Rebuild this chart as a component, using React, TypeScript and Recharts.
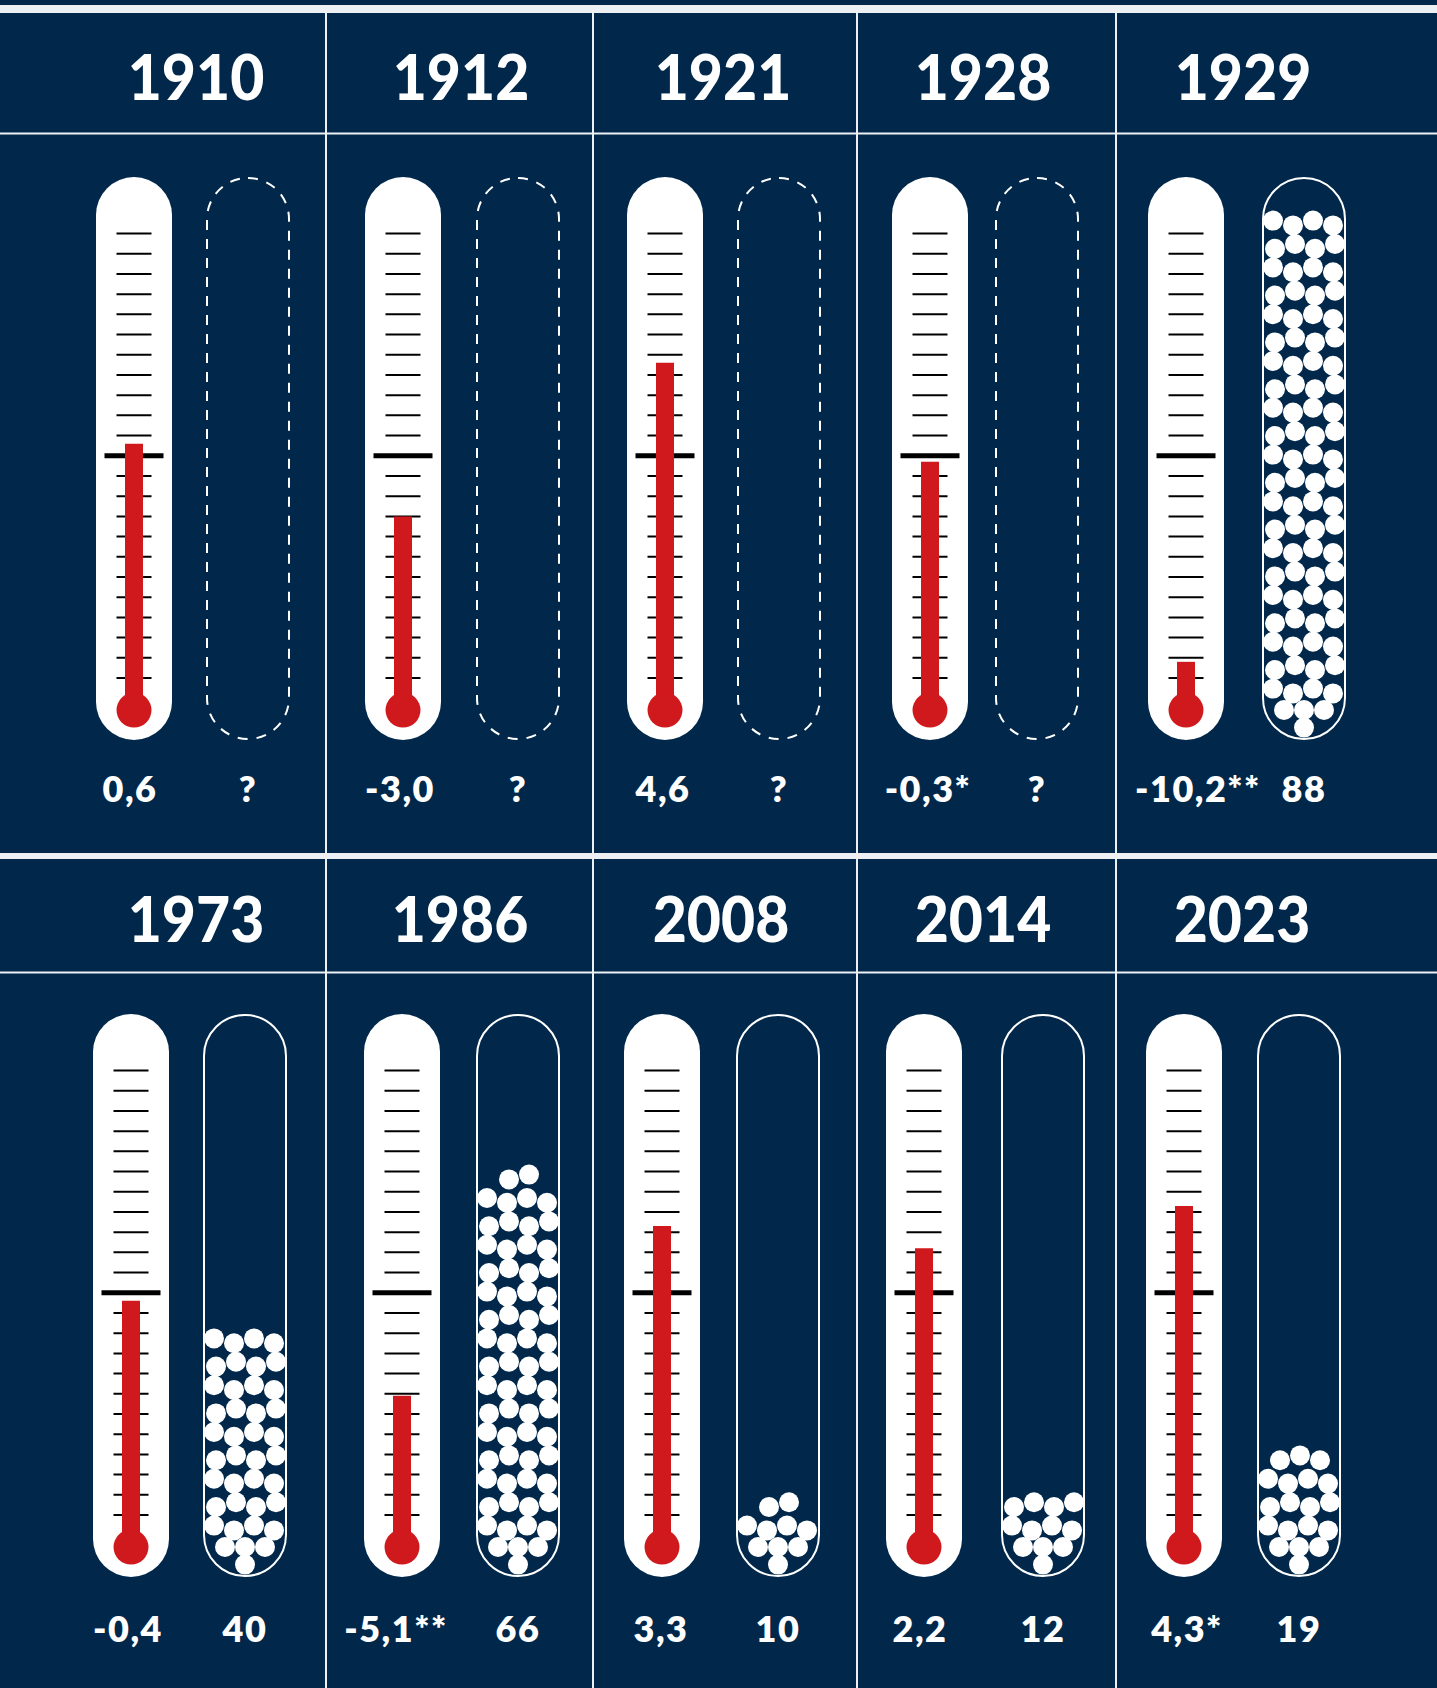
import React from "react";
import { ComposedChart, Bar, Scatter, XAxis, YAxis, ReferenceArea } from "recharts";

// one entry per panel, left to right, top row then bottom row
const years = ["1910", "1912", "1921", "1928", "1929", "1973", "1986", "2008", "2014", "2023"];
const temperatures = [0.6, -3.0, 4.6, -0.3, -10.2, -0.4, -5.1, 3.3, 2.2, 4.3];
const temperatureLabels = ["0,6", "-3,0", "4,6", "-0,3*", "-10,2**", "-0,4", "-5,1**", "3,3", "2,2", "4,3*"];
const ballCounts: (number | null)[] = [null, null, null, null, 88, 40, 66, 10, 12, 19];
const scaleTicks = [-11, -10, -9, -8, -7, -6, -5, -4, -3, -2, -1, 1, 2, 3, 4, 5, 6, 7, 8, 9, 10, 11];

// layout
const PAGE_W = 1437;
const PAGE_H = 1688;
const NAVY = "#01284a";
const RED = "#d0191d";
const RULE = "#eef1f4";
const FONT = "Lato, 'Noto Sans', sans-serif";

const Y_MIN = -14.07;
const Y_MAX = 13.8;
const BULB = -12.59;
const GAUGE_W = 100;
const GAUGE_H = 563;
const TUBE_TOP = GAUGE_H / 20; // tube height in ball diameters

const thermoX = [134, 403, 665, 930, 1186, 131, 402, 662, 924, 1184];
const tubeX = [248, 518, 779, 1037, 1304, 245, 518, 778, 1043, 1299];
const yearX = [196, 461, 723, 983, 1243, 196, 460, 721, 983, 1242];
const tempLabelX = [130, 400, 663, 928, 1198, 128, 396, 661, 920, 1187];
const colLines = [325, 592, 856, 1115];
const rows = [
  { top: 13, bottom: 853, headLine: 133, yearBase: 100, body: 177, labelBase: 802 },
  { top: 859, bottom: PAGE_H, headLine: 972, yearBase: 942, body: 1014, labelBase: 1642 },
];

const noMargin = { top: 0, right: 0, bottom: 0, left: 0 };

const capsule = (p: any) => {
  const cx = p.x + p.width / 2;
  return <rect x={cx - 38} y={p.y} width={76} height={p.height} rx={38} ry={38} fill="#fff" />;
};
const tickMark = (p: any) => (
  <line x1={p.cx - 17.5} x2={p.cx + 17.5} y1={p.cy} y2={p.cy} stroke="#000" strokeWidth={2} />
);
const zeroMark = (p: any) => (
  <line x1={p.cx - 29.5} x2={p.cx + 29.5} y1={p.cy} y2={p.cy} stroke="#000" strokeWidth={5} />
);
const bulb = (p: any) => <circle cx={p.cx} cy={p.cy} r={17.5} fill={RED} />;
const ball = (p: any) => <circle cx={p.cx} cy={p.cy} r={10} fill="#fff" />;

// stack the balls from the bottom of the tube, in ball-diameter units
function pileBalls(count: number) {
  const pts: { x: number; y: number }[] = [];
  let r = 0;
  while (pts.length < count) {
    const base = r === 0 ? [0] : r === 1 ? [-1, 0, 1] : [-1.5, -0.5, 0.5, 1.5];
    const left = count - pts.length;
    let xs = base;
    if (left < base.length) xs = left === 1 ? [0] : left === 2 ? [-0.5, 0.5] : [-1, 0, 1];
    const y = r === 0 ? 0.62 : r === 1 ? 1.5 : 2.45 + (r - 2) * 1.17;
    xs.forEach((x, i) => {
      if (r < 2) pts.push({ x, y });
      else pts.push({ x: x + (r % 2 ? 0.05 : -0.05), y: y + (i % 2 ? 0.12 : -0.12) * (r % 2 ? 1 : -1) });
    });
    r++;
  }
  return pts;
}

function Thermometer({ temp }: { temp: number }) {
  const data = [{ k: "t", stem: [BULB, temp] }];
  return (
    <ComposedChart width={GAUGE_W} height={GAUGE_H} data={data} margin={noMargin}>
      <XAxis dataKey="k" type="category" allowDuplicatedCategory={false} hide />
      <YAxis type="number" domain={[Y_MIN, Y_MAX]} allowDataOverflow hide />
      <ReferenceArea y1={Y_MIN} y2={Y_MAX} shape={capsule} zIndex={100} />
      <Scatter
        data={scaleTicks.map((v) => ({ k: "t", v }))}
        dataKey="v"
        shape={tickMark}
        zIndex={200}
        isAnimationActive={false}
      />
      <Scatter data={[{ k: "t", v: 0 }]} dataKey="v" shape={zeroMark} zIndex={300} isAnimationActive={false} />
      <Bar dataKey="stem" barSize={18} fill={RED} zIndex={400} isAnimationActive={false} />
      <Scatter data={[{ k: "t", v: BULB }]} dataKey="v" shape={bulb} zIndex={500} isAnimationActive={false} />
    </ComposedChart>
  );
}

function Tube({ count }: { count: number | null }) {
  const balls = count == null ? [] : pileBalls(count);
  const outline = (p: any) => {
    const cx = p.x + p.width / 2;
    return (
      <rect
        x={cx - 41}
        y={p.y + 1}
        width={82}
        height={p.height - 2}
        rx={41}
        ry={41}
        fill="none"
        stroke="#fff"
        strokeWidth={2}
        strokeDasharray={count == null ? "10 9" : undefined}
      />
    );
  };
  return (
    <ComposedChart width={GAUGE_W} height={GAUGE_H} margin={noMargin}>
      <XAxis dataKey="x" type="number" domain={[-2.5, 2.5]} allowDataOverflow hide />
      <YAxis dataKey="y" type="number" domain={[0, TUBE_TOP]} allowDataOverflow hide />
      <ReferenceArea y1={0} y2={TUBE_TOP} shape={outline} zIndex={100} />
      <Scatter data={balls} dataKey="y" shape={ball} zIndex={200} isAnimationActive={false} />
    </ComposedChart>
  );
}

export default function App() {
  return (
    <div style={{ position: "absolute", left: 0, top: 0, width: PAGE_W, height: PAGE_H, background: NAVY, overflow: "hidden" }}>
      <svg width={PAGE_W} height={PAGE_H} style={{ position: "absolute", left: 0, top: 0 }}>
        <rect x={0} y={5} width={PAGE_W} height={8} fill={RULE} />
        <rect x={0} y={853} width={PAGE_W} height={6} fill={RULE} />
        {rows.map((row, ri) => (
          <g key={ri}>
            <rect x={0} y={row.headLine - 0.5} width={PAGE_W} height={2} fill={RULE} />
            {colLines.map((x) => (
              <rect key={x} x={x} y={row.top} width={2} height={row.bottom - row.top} fill={RULE} />
            ))}
          </g>
        ))}
        {years.map((yr, i) => {
          const row = rows[i < 5 ? 0 : 1];
          return (
            <g key={yr} fontFamily={FONT} fill="#fff" textAnchor="middle">
              <text
                transform={`translate(${yearX[i]},${row.yearBase}) scale(0.95,1)`}
                fontSize={62}
                fontWeight={900}
              >
                {yr}
              </text>
              <text x={tempLabelX[i]} y={row.labelBase} fontSize={36} fontWeight={800} letterSpacing={1.5}>
                {temperatureLabels[i]}
              </text>
              <text x={tubeX[i]} y={row.labelBase} fontSize={36} fontWeight={800} letterSpacing={1.5}>
                {ballCounts[i] == null ? "?" : String(ballCounts[i])}
              </text>
            </g>
          );
        })}
      </svg>
      {years.map((yr, i) => {
        const row = rows[i < 5 ? 0 : 1];
        return (
          <React.Fragment key={yr}>
            <div style={{ position: "absolute", left: thermoX[i] - GAUGE_W / 2, top: row.body }}>
              <Thermometer temp={temperatures[i]} />
            </div>
            <div style={{ position: "absolute", left: tubeX[i] - GAUGE_W / 2, top: row.body }}>
              <Tube count={ballCounts[i]} />
            </div>
          </React.Fragment>
        );
      })}
    </div>
  );
}
